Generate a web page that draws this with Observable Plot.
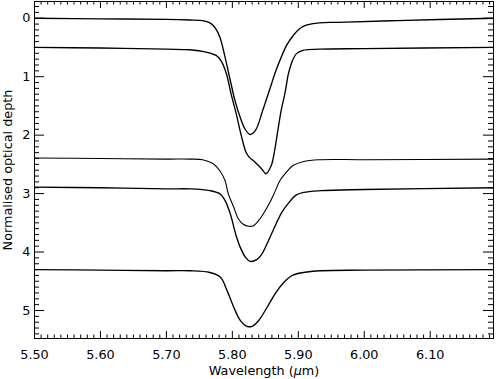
<!DOCTYPE html>
<html>
<head>
<meta charset="utf-8">
<script src="https://cdn.jsdelivr.net/npm/d3@7"></script>
<script src="https://cdn.jsdelivr.net/npm/@observablehq/plot@0.6"></script>
<style>
  html, body { margin: 0; padding: 0; background: #fff; }
</style>
</head>
<body>
<div id="chart"></div>
<script>
// ---- data ----
const wl1  = [5.500, 5.600, 5.700, 5.735, 5.755, 5.766, 5.773, 5.781, 5.789, 5.797, 5.804, 5.812, 5.819, 5.827, 5.835, 5.846, 5.856, 5.866, 5.874, 5.882, 5.892, 5.902, 5.912, 5.932, 5.960, 6.050, 6.196];
const dep1 = [0.00, 0.01, 0.02, 0.03, 0.04, 0.08, 0.15, 0.32, 0.67, 1.07, 1.41, 1.70, 1.89, 1.99, 1.92, 1.58, 1.24, 0.90, 0.67, 0.47, 0.30, 0.18, 0.12, 0.08, 0.07, 0.04, 0.00];

const wl2  = [5.500, 5.600, 5.700, 5.735, 5.760, 5.776, 5.783, 5.791, 5.798, 5.806, 5.813, 5.821, 5.826, 5.834, 5.844, 5.851, 5.859, 5.864, 5.869, 5.874, 5.880, 5.885, 5.890, 5.897, 5.907, 5.932, 6.000, 6.196];
const dep2 = [0.50, 0.51, 0.53, 0.54, 0.58, 0.64, 0.73, 0.95, 1.29, 1.64, 1.98, 2.30, 2.38, 2.46, 2.57, 2.66, 2.52, 2.27, 1.92, 1.58, 1.27, 0.95, 0.76, 0.61, 0.55, 0.53, 0.52, 0.50];

const wl3  = [5.500, 5.600, 5.700, 5.735, 5.755, 5.771, 5.781, 5.789, 5.794, 5.802, 5.809, 5.817, 5.825, 5.832, 5.842, 5.853, 5.863, 5.872, 5.883, 5.892, 5.908, 5.932, 6.000, 6.196];
const dep3 = [2.39, 2.40, 2.41, 2.41, 2.42, 2.49, 2.61, 2.78, 3.01, 3.23, 3.43, 3.53, 3.56, 3.55, 3.43, 3.23, 3.01, 2.78, 2.62, 2.52, 2.45, 2.42, 2.42, 2.41];

const wl4  = [5.500, 5.600, 5.700, 5.736, 5.766, 5.782, 5.789, 5.797, 5.805, 5.812, 5.820, 5.827, 5.837, 5.845, 5.855, 5.865, 5.875, 5.886, 5.896, 5.908, 5.934, 6.000, 6.196];
const dep4 = [2.89, 2.90, 2.92, 2.92, 2.95, 3.01, 3.12, 3.35, 3.69, 3.92, 4.09, 4.16, 4.13, 4.03, 3.80, 3.55, 3.32, 3.15, 3.03, 2.98, 2.95, 2.93, 2.90];

const wl5  = [5.500, 5.600, 5.700, 5.736, 5.766, 5.782, 5.792, 5.802, 5.812, 5.822, 5.830, 5.840, 5.853, 5.865, 5.878, 5.891, 5.908, 5.934, 6.000, 6.196];
const dep5 = [4.30, 4.31, 4.32, 4.32, 4.35, 4.43, 4.66, 4.94, 5.17, 5.27, 5.27, 5.17, 4.94, 4.71, 4.52, 4.40, 4.35, 4.32, 4.31, 4.30];

const xMajor = [5.50, 5.60, 5.70, 5.80, 5.90, 6.00, 6.10];
const yMajor = [0, 1, 2, 3, 4, 5];
const xLabel = "Wavelength (μm)";
const yLabel = "Normalised optical depth";

// ---- layout ----
const W = 496, H = 379;
const mL = 34, mR = 3, mT = 1, mB = 41;
const plotH = H - mT - mB;
const plotW = W - mL - mR;
const fs = 12.8;

const xMinor = d3.range(0, 70).map(i => +(5.50 + i * 0.01).toFixed(2)).filter(v => !xMajor.includes(v));
const yMinor = d3.range(-2, 55).map(i => +(i * 0.1).toFixed(1)).filter(v => !yMajor.includes(v));

const series = [
  {wl: wl1, dep: dep1, sw: 1.35},
  {wl: wl2, dep: dep2, sw: 1.35},
  {wl: wl3, dep: dep3, sw: 1.1},
  {wl: wl4, dep: dep4, sw: 1.35},
  {wl: wl5, dep: dep5, sw: 1.35}
];

const lineMarks = series.map(s =>
  Plot.line(s.wl.map((w, i) => ({w, d: s.dep[i]})), {
    x: "w", y: "d", curve: "catmull-rom", stroke: "#000", strokeWidth: s.sw
  })
);

const xMajLen = 7, xMinLen = 3.5, yMajLen = 10, yMinLen = 5;

const chart = Plot.plot({
  width: W,
  height: H,
  marginLeft: mL, marginRight: mR, marginTop: mT, marginBottom: mB,
  style: {fontFamily: "DejaVu Sans", fontSize: fs + "px", background: "#fff", color: "#000"},
  x: {domain: [5.5, 6.196]},
  y: {domain: [5.479, -0.286]},
  marks: [
    ...lineMarks,
    // bottom & top ticks
    Plot.tickX(xMajor, {x: d => d, insetTop: plotH - xMajLen, stroke: "#000"}),
    Plot.tickX(xMinor, {x: d => d, insetTop: plotH - xMinLen, stroke: "#000"}),
    Plot.tickX(xMajor, {x: d => d, insetBottom: plotH - xMajLen, stroke: "#000"}),
    Plot.tickX(xMinor, {x: d => d, insetBottom: plotH - xMinLen, stroke: "#000"}),
    // left & right ticks
    Plot.tickY(yMajor, {y: d => d, insetRight: plotW - yMajLen, stroke: "#000"}),
    Plot.tickY(yMinor, {y: d => d, insetRight: plotW - yMinLen, stroke: "#000"}),
    Plot.tickY(yMajor, {y: d => d, insetLeft: plotW - yMajLen, stroke: "#000"}),
    Plot.tickY(yMinor, {y: d => d, insetLeft: plotW - yMinLen, stroke: "#000"}),
    Plot.frame({stroke: "#000"}),
    Plot.axisX(xMajor, {tickSize: 0, tickPadding: 11, tickFormat: d3.format(".2f"), label: null, fontSize: fs, fill: "#000"}),
    Plot.axisY(yMajor, {tickSize: 0, tickPadding: 4, tickFormat: d3.format("d"), label: null, fontSize: fs, fill: "#000"}),
    Plot.text([xLabel], {text: d => d, frameAnchor: "bottom", lineAnchor: "bottom", dy: 36, fontSize: fs, fill: "#000"}),
    Plot.text([yLabel], {text: d => d, frameAnchor: "left", textAnchor: "middle", rotate: -90, dx: -27, fontSize: fs, fill: "#000"})
  ]
});

// italic mu in the x label
chart.querySelectorAll("text").forEach(t => {
  if (t.textContent === xLabel) {
    t.innerHTML = 'Wavelength (<tspan font-style="italic">μ</tspan>m)';
  }
});

document.getElementById("chart").appendChild(chart);
</script>
</body>
</html>
